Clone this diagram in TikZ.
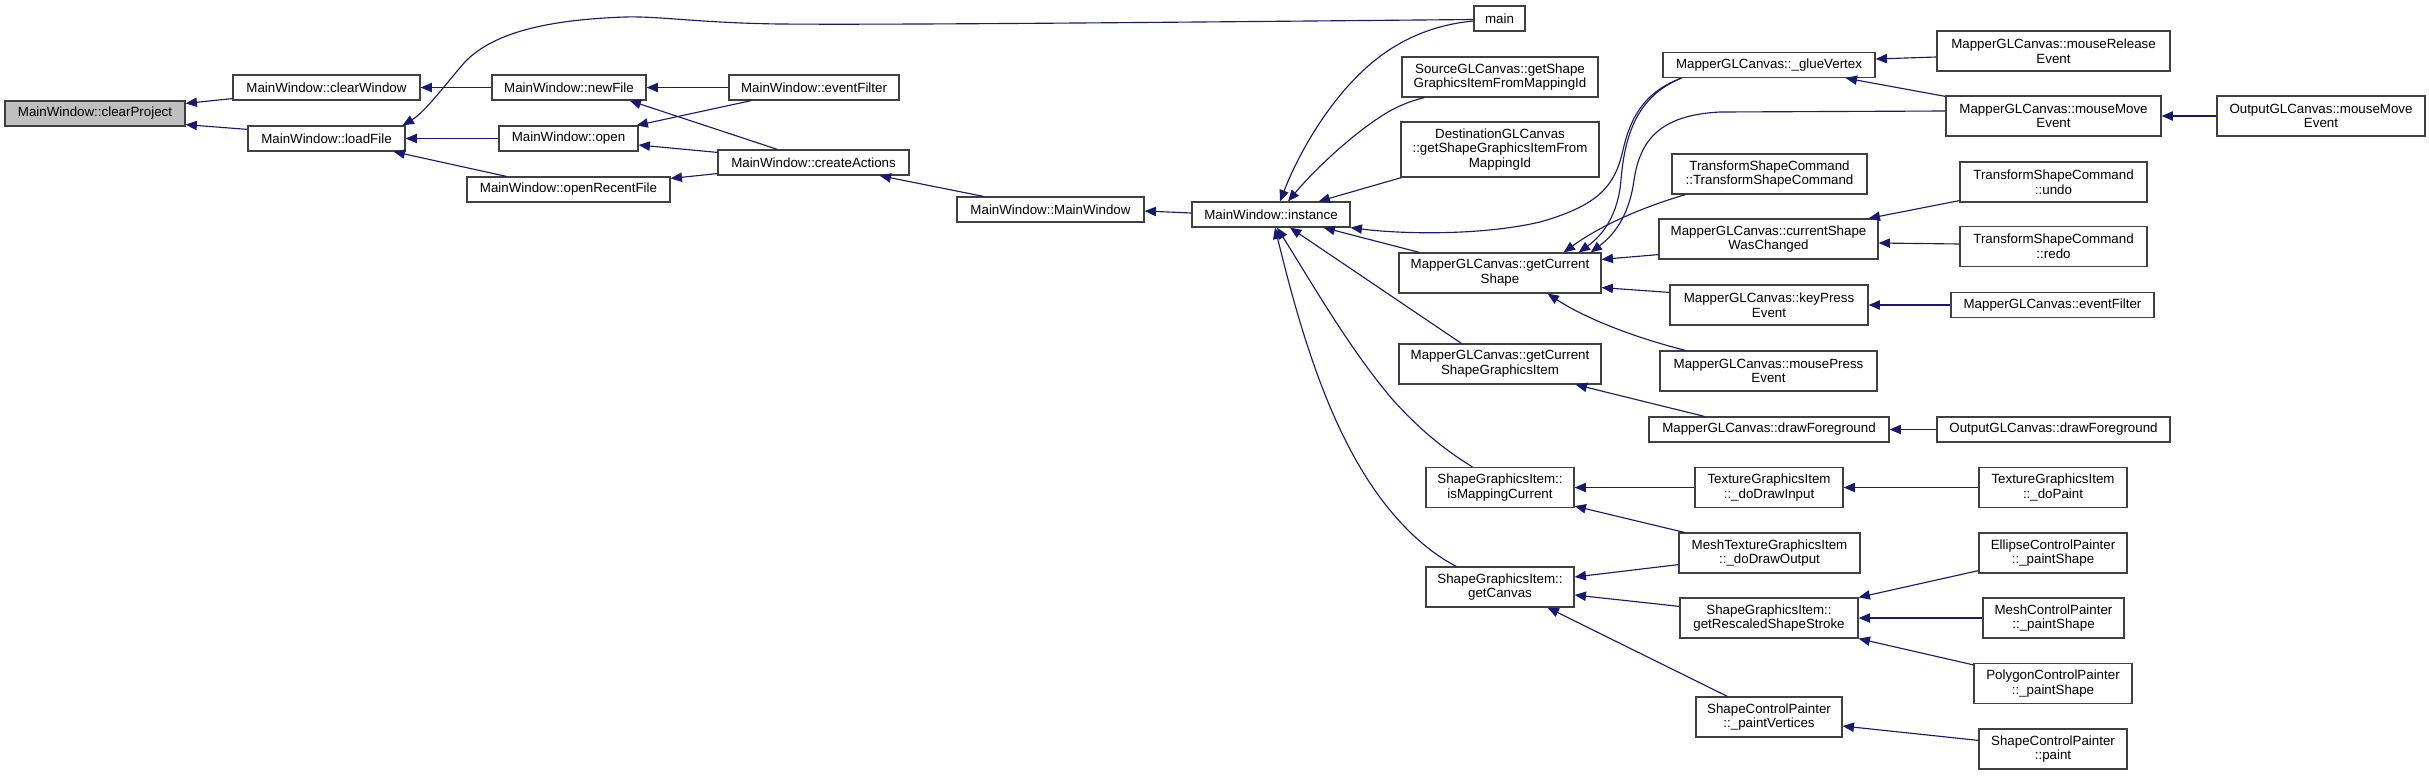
\documentclass[tikz,border=0pt]{standalone}
\usepackage{fontspec}
\setmainfont{Liberation Sans}
\usetikzlibrary{arrows.meta}
\definecolor{edgeblue}{HTML}{191970}
\definecolor{nodegrey}{HTML}{BFBFBF}
\definecolor{border}{HTML}{404040}
\begin{document}
\begin{tikzpicture}[x=0.75pt,y=-0.75pt,
  box/.style={draw=border, line width=0.9pt, fill=white, inner sep=0pt, align=center,
    font=\fontsize{10}{11}\selectfont},
  one/.style={minimum height=18.75pt},
  two/.style={minimum height=30pt},
  edge/.style={draw=edgeblue, line width=0.85pt, {Triangle[length=8.5pt,width=7pt]}-}]
\useasboundingbox (0,0) rectangle (2429,775);
\fill[white] (0,0) rectangle (2429,775);
% nodes
\node[box,one,fill=nodegrey,minimum width=135pt] (cp) at (95,113.5) {MainWindow::clearProject};
\node[box,one,minimum width=140.25pt] (cw) at (326.5,87.5) {MainWindow::clearWindow};
\node[box,one,minimum width=117.75pt] (lf) at (326.5,138.5) {MainWindow::loadFile};
\node[box,one,minimum width=115.5pt] (nf) at (569,87.5) {MainWindow::newFile};
\node[box,one,minimum width=104.25pt] (op) at (568.5,138.5) {MainWindow::open};
\node[box,one,minimum width=152.25pt] (orf) at (568.5,189.5) {MainWindow::openRecentFile};
\node[box,one,minimum width=127.5pt] (ef) at (814,87.5) {MainWindow::eventFilter};
\node[box,one,minimum width=143.25pt] (ca) at (813.5,162.5) {MainWindow::createActions};
\node[box,one,minimum width=140.25pt] (mw) at (1050.5,209.5) {MainWindow::MainWindow};
\node[box,one,minimum width=118.5pt] (in) at (1271,214.5) {MainWindow::instance};
\node[box,one,minimum width=38.25pt] (main) at (1499.5,18.5) {main};
\node[box,two,minimum width=147pt] (src) at (1500,77) {SourceGLCanvas::getShape\\GraphicsItemFromMappingId};
\node[box,minimum height=41.25pt,minimum width=148.5pt] (dst) at (1500,149.5) {DestinationGLCanvas\\::getShapeGraphicsItemFrom\\MappingId};
\node[box,two,minimum width=151.5pt] (gcs) at (1500,273) {MapperGLCanvas::getCurrent\\Shape};
\node[box,two,minimum width=151.5pt] (gcsgi) at (1500,364) {MapperGLCanvas::getCurrent\\ShapeGraphicsItem};
\node[box,two,minimum width=111pt] (imc) at (1500,487.5) {ShapeGraphicsItem::\\isMappingCurrent};
\node[box,two,minimum width=111pt] (gc) at (1500,587) {ShapeGraphicsItem::\\getCanvas};
\node[box,one,minimum width=159pt] (glue) at (1769,65) {MapperGLCanvas::\_glueVertex};
\node[box,two,minimum width=146.25pt] (tsc) at (1769.5,174) {TransformShapeCommand\\::TransformShapeCommand};
\node[box,two,minimum width=164.25pt] (cswc) at (1768.5,239) {MapperGLCanvas::currentShape\\WasChanged};
\node[box,two,minimum width=148.5pt] (kpe) at (1769,305) {MapperGLCanvas::keyPress\\Event};
\node[box,two,minimum width=162.75pt] (mpe) at (1768.5,371) {MapperGLCanvas::mousePress\\Event};
\node[box,one,minimum width=180pt] (dfg) at (1769,429.5) {MapperGLCanvas::drawForeground};
\node[box,two,minimum width=111pt] (ddi) at (1769,487.5) {TextureGraphicsItem\\::\_doDrawInput};
\node[box,two,minimum width=135.75pt] (ddo) at (1769.5,553) {MeshTextureGraphicsItem\\::\_doDrawOutput};
\node[box,two,minimum width=133.5pt] (grss) at (1769,618) {ShapeGraphicsItem::\\getRescaledShapeStroke};
\node[box,two,minimum width=109.5pt] (pv) at (1769,717) {ShapeControlPainter\\::\_paintVertices};
\node[box,two,minimum width=174.75pt] (mre) at (2053.5,51) {MapperGLCanvas::mouseRelease\\Event};
\node[box,two,minimum width=161.25pt] (mme) at (2053.5,116) {MapperGLCanvas::mouseMove\\Event};
\node[box,two,minimum width=140.25pt] (undo) at (2053.5,182) {TransformShapeCommand\\::undo};
\node[box,two,minimum width=140.25pt] (redo) at (2053.5,246.5) {TransformShapeCommand\\::redo};
\node[box,one,minimum width=152.25pt] (mef) at (2052.5,305) {MapperGLCanvas::eventFilter};
\node[box,one,minimum width=174.75pt] (odf) at (2053.5,429.5) {OutputGLCanvas::drawForeground};
\node[box,two,minimum width=111pt] (dp) at (2053,487.5) {TextureGraphicsItem\\::\_doPaint};
\node[box,two,minimum width=111pt] (ell) at (2053,553) {EllipseControlPainter\\::\_paintShape};
\node[box,two,minimum width=105.75pt] (mcp) at (2053.5,618) {MeshControlPainter\\::\_paintShape};
\node[box,two,minimum width=118.5pt] (pcp) at (2053,683.5) {PolygonControlPainter\\::\_paintShape};
\node[box,two,minimum width=111pt] (scp) at (2053,749) {ShapeControlPainter\\::paint};
\node[box,two,minimum width=156pt] (omme) at (2321,116) {OutputGLCanvas::mouseMove\\Event};
% edges (arrow tip at callee)
\draw[edge] ([shift={(0,3)}]cp.north east) -- ([shift={(0,-2)}]cw.south west);
\draw[edge] ([shift={(0,-2)}]cp.south east) -- ([shift={(0,4)}]lf.north west);
\draw[edge] (cw.east) -- (nf.west);
\draw[edge] ([shift={(-3,0)}]lf.north east) .. controls (425,112) and (445,85) .. (464,63)
  .. controls (490,35) and (540,20) .. (625,17) .. controls (660,16) and (700,23) .. (780,24)
  .. controls (900,25) and (1200,22) .. ([shift={(0,1)}]main.west);
\draw[edge] (lf.east) -- (op.west);
\draw[edge] ([shift={(-12,0)}]lf.south east) -- ([shift={(40,0)}]orf.north west);
\draw[edge] (nf.east) -- (ef.west);
\draw[edge] ([shift={(-17,0)}]nf.south east) -- ([shift={(60,0)}]ca.north west);
\draw[edge] ([shift={(-2,0)}]op.north east) -- ([shift={(23,0)}]ef.south west);
\draw[edge] ([shift={(0,6.5)}]op.east) -- ([shift={(0,3)}]ca.north west);
\draw[edge] ([shift={(0,2)}]orf.north east) -- ([shift={(0,-2)}]ca.south west);
\draw[edge] ([shift={(-30,0)}]ca.south east) -- ([shift={(27,0)}]mw.north west);
\draw[edge] ([shift={(0,1.5)}]mw.east) -- ([shift={(0,-1.5)}]in.west);
\draw[edge] ([shift={(9,0)}]in.north) .. controls (1300,150) and (1330,100) .. (1367,67)
  .. controls (1395,42) and (1430,25) .. ([shift={(0,2.5)}]main.west);
\draw[edge] ([shift={(17,0)}]in.north) .. controls (1310,175) and (1345,140) .. (1380,117)
  .. controls (1395,107) and (1410,101) .. ([shift={(23,0)}]src.south west);
\draw[edge] ([shift={(-32,0)}]in.north east) -- ([shift={(1,0)}]dst.south west);
\draw[edge] (in.south east) .. controls (1400,234) and (1480,236) .. (1540,222)
  .. controls (1600,205) and (1615,185) .. (1623,150) .. controls (1632,110) and (1650,90) .. ([shift={(19,0)}]glue.south west);
\draw[edge] ([shift={(-27,0)}]in.south east) -- ([shift={(21,0)}]gcs.north west);
\draw[edge] ([shift={(19,0)}]in.south) -- ([shift={(63,0)}]gcsgi.north west);
\draw[edge] ([shift={(6,0)}]in.south) .. controls (1310,280) and (1350,350) .. (1393,400)
  .. controls (1420,430) and (1445,450) .. ([shift={(47,0)}]imc.north west);
\draw[edge] ([shift={(4,0)}]in.south) .. controls (1295,310) and (1320,400) .. (1360,467)
  .. controls (1385,510) and (1420,548) .. ([shift={(31,0)}]gc.north west);
\draw[edge] ([shift={(-23,0)}]gcs.north east) .. controls (1603,235) and (1618,215) .. (1621,180)
  .. controls (1625,130) and (1640,95) .. ([shift={(19,0)}]glue.south west);
\draw[edge] ([shift={(-11,0)}]gcs.north east) .. controls (1618,232) and (1630,210) .. (1634,180)
  .. controls (1640,140) and (1660,115) .. (1720,112) -- ([shift={(0,-5)}]mme.west);
\draw[edge] ([shift={(-38,0)}]gcs.north east) .. controls (1600,226) and (1640,208) .. ([shift={(14,0)}]tsc.south west);
\draw[edge] ([shift={(0,7)}]gcs.north east) -- ([shift={(0,-5)}]cswc.south west);
\draw[edge] ([shift={(0,-6)}]gcs.south east) -- ([shift={(0,8)}]kpe.north west);
\draw[edge] ([shift={(-54,0)}]gcs.south east) .. controls (1580,315) and (1625,335) .. ([shift={(26,0)}]mpe.north west);
\draw[edge] ([shift={(0,-6)}]glue.east) -- ([shift={(0,6)}]mre.west);
\draw[edge] ([shift={(-30,0)}]glue.south east) -- ([shift={(0,1)}]mme.north west);
\draw[edge] (mme.east) -- (omme.west);
\draw[edge] ([shift={(-10,0)}]cswc.north east) -- ([shift={(0,-2)}]undo.south west);
\draw[edge] ([shift={(0,4)}]cswc.east) -- ([shift={(0,-2.5)}]redo.west);
\draw[edge] (kpe.east) -- (mef.west);
\draw[edge] ([shift={(-26,0)}]gcsgi.south east) -- ([shift={(56,0)}]dfg.north west);
\draw[edge] (dfg.east) -- (odf.west);
\draw[edge] (imc.east) -- (ddi.west);
\draw[edge] (ddi.east) -- (dp.west);
\draw[edge] ([shift={(0,-2)}]imc.south east) -- ([shift={(6,0)}]ddo.north west);
\draw[edge] ([shift={(0,-10)}]gc.east) -- ([shift={(0,-9)}]ddo.south west);
\draw[edge] ([shift={(0,8)}]gc.east) -- ([shift={(0,9)}]grss.north west);
\draw[edge] ([shift={(-27,0)}]gc.south east) -- ([shift={(32,0)}]pv.north west);
\draw[edge] (grss.north east) -- ([shift={(0,-3)}]ell.south west);
\draw[edge] (grss.east) -- (mcp.west);
\draw[edge] (grss.south east) -- ([shift={(0,2)}]pcp.north west);
\draw[edge] ([shift={(0,9)}]pv.east) -- ([shift={(0,12)}]scp.north west);
\end{tikzpicture}
\end{document}
